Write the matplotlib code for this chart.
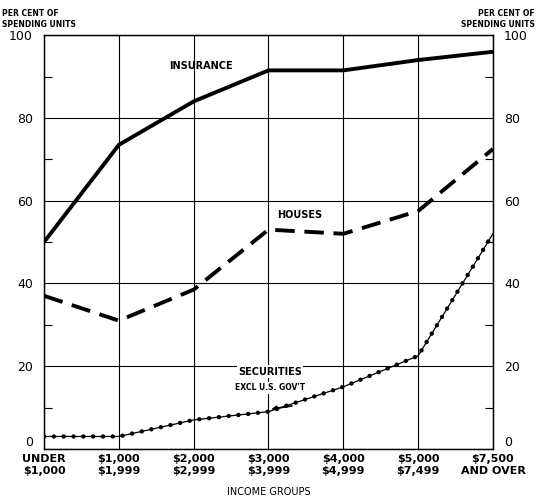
import matplotlib
matplotlib.use("Agg")
import matplotlib.pyplot as plt
import numpy as np

categories = ["UNDER\n$1,000", "$1,000\n$1,999", "$2,000\n$2,999", "$3,000\n$3,999",
              "$4,000\n$4,999", "$5,000\n$7,499", "$7,500\nAND OVER"]
insurance = [50, 73.5, 84, 91.5, 91.5, 94, 96]
houses = [37, 31, 38.5, 53, 52, 57.5, 72.5]
securities = [3, 3, 7, 9, 15, 22.5, 52]
yticks = [0, 20, 40, 60, 80, 100]

plt.rcParams['font.family'] = ['DejaVu Sans']
fig = plt.figure(figsize=(5.37, 4.96), dpi=100)
ax = fig.add_axes([0.082, 0.095, 0.836, 0.834])
x = np.arange(len(categories))

ax.plot(x, insurance, color='black', lw=2.8, solid_capstyle='butt')
ax.plot(x, houses, color='black', lw=2.8, linestyle=(0, (5, 2.5)), dash_capstyle='butt')
ax.plot(x, securities, color='black', lw=0.9)
ax.plot(x, securities, color='black', lw=3.2, linestyle=(0, (0.01, 2.2)), dash_capstyle='round')

ax.set_xlim(0, len(categories) - 1)
ax.set_ylim(0, 100)
ax.set_xticks(x)
ax.set_xticklabels(categories, fontsize=8, fontweight='bold')
ax.set_yticks(yticks)
ax.set_yticklabels([str(v) for v in yticks], fontsize=9)
ax.set_yticks([10, 30, 50, 70, 90], minor=True)
ax.tick_params(axis='y', which='major', length=0, pad=8)
ax.tick_params(axis='y', which='minor', direction='in', length=6, width=0.8)
ax.tick_params(axis='x', length=0, pad=4)
ax.grid(True, which='major', color='black', lw=0.8)
for s in ax.spines.values():
    s.set_linewidth(1.0)

ax2 = ax.twinx()
ax2.set_ylim(0, 100)
ax2.set_yticks(yticks)
ax2.set_yticklabels([str(v) for v in yticks], fontsize=9)
ax2.set_yticks([10, 30, 50, 70, 90], minor=True)
ax2.tick_params(axis='y', which='major', length=0, pad=8)
ax2.tick_params(axis='y', which='minor', direction='in', length=6, width=0.8)

# "0" labels sit just above the baseline so they clear the income-group labels
for a in (ax, ax2):
    a.get_yticklabels()[0].set_va('bottom')

ax.set_xlabel("INCOME GROUPS", fontsize=7, labelpad=8)

fig.text(0.004, 0.942, "PER CENT OF\nSPENDING UNITS", fontsize=5.5, fontweight='bold',
         ha='left', va='bottom', linespacing=1.2)
fig.text(0.996, 0.942, "PER CENT OF\nSPENDING UNITS", fontsize=5.5, fontweight='bold',
         ha='right', va='bottom', linespacing=1.2, multialignment='right')

ax.text(2.1, 92.5, "INSURANCE", fontsize=7, fontweight='bold', ha='center', va='center')
ax.text(3.42, 56.5, "HOUSES", fontsize=7, fontweight='bold', ha='center', va='center')
ax.text(3.02, 18.7, "SECURITIES", fontsize=7, fontweight='bold', ha='center', va='center',
        bbox=dict(facecolor='white', edgecolor='none', pad=1))
ax.text(3.02, 14.8, "EXCL U.S. GOV'T", fontsize=5.5, fontweight='bold', ha='center', va='center',
        bbox=dict(facecolor='white', edgecolor='none', pad=1))
ax.annotate("", xy=(3.0, 9.5), xytext=(3.35, 10.5),
            arrowprops=dict(arrowstyle='-|>', color='black', lw=1.2, mutation_scale=7))

fig.savefig("out.png", dpi=100)
